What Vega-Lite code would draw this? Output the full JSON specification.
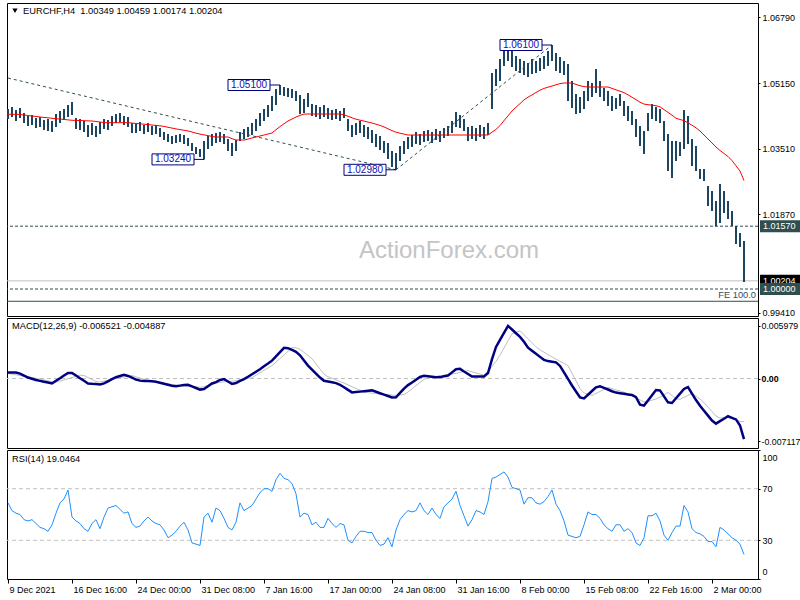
{
"$schema": "https://vega.github.io/schema/vega-lite/v6.json",
"background": "white",
"padding": {"left": 2, "top": 2, "right": 0, "bottom": 0},
"spacing": 2,
"bounds": "flush",
"resolve": {"scale": {"x": "independent", "y": "independent"}},
"config": {
  "view": {"stroke": "#000000", "strokeWidth": 1},
  "axis": {"labelFont": "Liberation Sans", "labelFontSize": 9, "labelColor": "#000000", "tickColor": "#000000", "domain": false, "grid": false}
},
"datasets": {
"d": [
{"i":0,"h":1.045,"l":1.0425,"m":1.04368,"d":0.00068,"s":0.00056,"r":59},
{"i":2,"h":1.0455,"l":1.043,"m":1.04368,"d":0.00068,"s":0.00049,"r":53},
{"i":4,"h":1.04475,"l":1.042,"m":1.04368,"d":0.00068,"s":0.00042,"r":51},
{"i":6,"h":1.04525,"l":1.04275,"m":1.04363,"d":0.00056,"s":0.00034,"r":50},
{"i":8,"h":1.044,"l":1.0415,"m":1.0435,"d":0.00034,"s":0.00026,"r":46},
{"i":10,"h":1.04325,"l":1.04075,"m":1.04338,"d":0.00011,"s":0.00019,"r":45},
{"i":12,"h":1.0435,"l":1.041,"m":1.04325,"d":-0.00002,"s":0.00011,"r":46},
{"i":14,"h":1.04275,"l":1.04025,"m":1.04313,"d":-0.00016,"s":0.00003,"r":43},
{"i":16,"h":1.043,"l":1.0405,"m":1.043,"d":-0.00027,"s":-0.00006,"r":40},
{"i":18,"h":1.04225,"l":1.03975,"m":1.0429,"d":-0.00037,"s":-0.00016,"r":39},
{"i":20,"h":1.0425,"l":1.0395,"m":1.0428,"d":-0.00046,"s":-0.00027,"r":37},
{"i":22,"h":1.042,"l":1.03925,"m":1.04268,"d":-0.00056,"s":-0.00037,"r":42},
{"i":24,"h":1.04375,"l":1.0405,"m":1.04258,"d":-0.00026,"s":-0.00042,"r":51},
{"i":26,"h":1.0445,"l":1.0415,"m":1.04248,"d":0.00003,"s":-0.00028,"r":59},
{"i":28,"h":1.045,"l":1.04225,"m":1.04238,"d":0.00034,"s":-0.00016,"r":62},
{"i":30,"h":1.046,"l":1.043,"m":1.04228,"d":0.00064,"s":-0.00002,"r":69},
{"i":32,"h":1.04675,"l":1.0435,"m":1.04218,"d":0.00064,"s":0.00011,"r":48},
{"i":34,"h":1.04275,"l":1.04,"m":1.04215,"d":0.00034,"s":0.00025,"r":45},
{"i":36,"h":1.0425,"l":1.03975,"m":1.0421,"d":0.00003,"s":0.00038,"r":43},
{"i":38,"h":1.042,"l":1.03925,"m":1.04208,"d":-0.00026,"s":0.00034,"r":39},
{"i":40,"h":1.041,"l":1.038,"m":1.04203,"d":-0.00056,"s":0.00011,"r":37},
{"i":42,"h":1.0415,"l":1.0385,"m":1.042,"d":-0.0006,"s":-0.00011,"r":43},
{"i":44,"h":1.04075,"l":1.038,"m":1.04188,"d":-0.00063,"s":-0.00034,"r":46},
{"i":46,"h":1.04175,"l":1.03875,"m":1.04175,"d":-0.00067,"s":-0.0004,"r":39},
{"i":48,"h":1.0425,"l":1.04,"m":1.0416,"d":-0.00056,"s":-0.00029,"r":48},
{"i":50,"h":1.04225,"l":1.03975,"m":1.04158,"d":-0.00032,"s":-0.00018,"r":55},
{"i":52,"h":1.04325,"l":1.04075,"m":1.04158,"d":-0.00007,"s":-0.00008,"r":56},
{"i":54,"h":1.04375,"l":1.0415,"m":1.04158,"d":0.00015,"s":0.00002,"r":57},
{"i":56,"h":1.044,"l":1.04175,"m":1.04158,"d":0.00028,"s":0.0001,"r":54},
{"i":58,"h":1.04325,"l":1.041,"m":1.04158,"d":0.00042,"s":0.00018,"r":51},
{"i":60,"h":1.043,"l":1.0405,"m":1.04158,"d":0.00029,"s":0.00026,"r":52},
{"i":62,"h":1.0415,"l":1.039,"m":1.04148,"d":0.00009,"s":0.00034,"r":43},
{"i":64,"h":1.04125,"l":1.039,"m":1.04138,"d":-0.00012,"s":0.00019,"r":40},
{"i":66,"h":1.04175,"l":1.0395,"m":1.0413,"d":-0.00024,"s":0.00006,"r":41},
{"i":68,"h":1.041,"l":1.03875,"m":1.0412,"d":-0.00027,"s":-0.00009,"r":45},
{"i":70,"h":1.0415,"l":1.03925,"m":1.0411,"d":-0.00029,"s":-0.00023,"r":48},
{"i":72,"h":1.04075,"l":1.0385,"m":1.041,"d":-0.00032,"s":-0.0003,"r":45},
{"i":74,"h":1.041,"l":1.03875,"m":1.0409,"d":-0.00037,"s":-0.00037,"r":43},
{"i":76,"h":1.04025,"l":1.038,"m":1.0408,"d":-0.00049,"s":-0.00045,"r":42},
{"i":78,"h":1.03925,"l":1.03725,"m":1.04065,"d":-0.0006,"s":-0.00053,"r":38},
{"i":80,"h":1.03875,"l":1.03675,"m":1.04043,"d":-0.00071,"s":-0.0006,"r":32},
{"i":82,"h":1.03825,"l":1.03625,"m":1.04023,"d":-0.00082,"s":-0.00068,"r":34},
{"i":84,"h":1.0385,"l":1.0365,"m":1.04003,"d":-0.00088,"s":-0.00076,"r":37},
{"i":86,"h":1.03875,"l":1.03675,"m":1.03985,"d":-0.00081,"s":-0.00081,"r":41},
{"i":88,"h":1.0385,"l":1.03625,"m":1.03968,"d":-0.00073,"s":-0.00085,"r":44},
{"i":90,"h":1.03775,"l":1.03575,"m":1.0395,"d":-0.00072,"s":-0.00088,"r":38},
{"i":92,"h":1.0365,"l":1.0345,"m":1.03925,"d":-0.0009,"s":-0.00093,"r":28},
{"i":94,"h":1.0355,"l":1.03375,"m":1.03895,"d":-0.00108,"s":-0.00096,"r":27},
{"i":96,"h":1.035,"l":1.033,"m":1.03873,"d":-0.00126,"s":-0.00099,"r":26},
{"i":98,"h":1.037,"l":1.0324,"m":1.03853,"d":-0.0012,"s":-0.00095,"r":48},
{"i":100,"h":1.03825,"l":1.035,"m":1.03835,"d":-0.00088,"s":-0.0008,"r":51},
{"i":102,"h":1.03875,"l":1.03575,"m":1.03815,"d":-0.00056,"s":-0.00067,"r":44},
{"i":104,"h":1.039,"l":1.0365,"m":1.038,"d":-0.00041,"s":-0.00052,"r":55},
{"i":106,"h":1.03925,"l":1.03675,"m":1.038,"d":-0.00016,"s":-0.00043,"r":53},
{"i":108,"h":1.03875,"l":1.03625,"m":1.038,"d":-0.00007,"s":-0.00038,"r":47},
{"i":110,"h":1.0375,"l":1.0345,"m":1.038,"d":-0.00034,"s":-0.00034,"r":40},
{"i":112,"h":1.0365,"l":1.03325,"m":1.03758,"d":-0.00061,"s":-0.00029,"r":38},
{"i":114,"h":1.03725,"l":1.0345,"m":1.03725,"d":-0.00051,"s":-0.00025,"r":44},
{"i":116,"h":1.03925,"l":1.037,"m":1.03725,"d":-0.00028,"s":-0.00016,"r":59},
{"i":118,"h":1.04,"l":1.0375,"m":1.03725,"d":-0.00006,"s":-0.00008,"r":53},
{"i":120,"h":1.0405,"l":1.038,"m":1.03748,"d":0.0002,"s":0.00001,"r":55},
{"i":122,"h":1.0415,"l":1.0385,"m":1.03775,"d":0.00049,"s":0.00011,"r":57},
{"i":124,"h":1.0425,"l":1.0395,"m":1.038,"d":0.00077,"s":0.00038,"r":62},
{"i":126,"h":1.044,"l":1.04075,"m":1.03825,"d":0.00106,"s":0.00065,"r":67},
{"i":128,"h":1.045,"l":1.042,"m":1.0385,"d":0.00139,"s":0.00093,"r":70},
{"i":130,"h":1.046,"l":1.043,"m":1.03875,"d":0.0017,"s":0.0012,"r":70},
{"i":132,"h":1.04825,"l":1.0445,"m":1.039,"d":0.00203,"s":0.00147,"r":68},
{"i":134,"h":1.05,"l":1.046,"m":1.03983,"d":0.00252,"s":0.00187,"r":77},
{"i":136,"h":1.051,"l":1.0485,"m":1.0406,"d":0.003,"s":0.00228,"r":82},
{"i":138,"h":1.0505,"l":1.04825,"m":1.0413,"d":0.00349,"s":0.00269,"r":78},
{"i":140,"h":1.05025,"l":1.048,"m":1.042,"d":0.00345,"s":0.00309,"r":77},
{"i":142,"h":1.05,"l":1.04775,"m":1.0425,"d":0.00325,"s":0.0035,"r":74},
{"i":144,"h":1.0495,"l":1.047,"m":1.043,"d":0.00304,"s":0.0035,"r":66},
{"i":146,"h":1.0485,"l":1.04375,"m":1.0434,"d":0.00264,"s":0.00332,"r":48},
{"i":148,"h":1.0475,"l":1.044,"m":1.04373,"d":0.00205,"s":0.00297,"r":51},
{"i":150,"h":1.049,"l":1.0455,"m":1.04375,"d":0.00147,"s":0.00261,"r":50},
{"i":152,"h":1.04625,"l":1.04325,"m":1.04375,"d":0.00102,"s":0.00226,"r":42},
{"i":154,"h":1.046,"l":1.043,"m":1.04375,"d":0.00056,"s":0.00167,"r":44},
{"i":156,"h":1.0455,"l":1.0425,"m":1.04375,"d":0.00011,"s":0.00107,"r":40},
{"i":158,"h":1.046,"l":1.043,"m":1.04375,"d":-0.00025,"s":0.00049,"r":40},
{"i":160,"h":1.04525,"l":1.0425,"m":1.04375,"d":-0.00034,"s":0.0002,"r":47},
{"i":162,"h":1.04475,"l":1.04225,"m":1.04375,"d":-0.00043,"s":0.00002,"r":43},
{"i":164,"h":1.045,"l":1.0425,"m":1.04375,"d":-0.00052,"s":-0.00016,"r":40},
{"i":166,"h":1.0445,"l":1.042,"m":1.04375,"d":-0.00071,"s":-0.00034,"r":43},
{"i":168,"h":1.04525,"l":1.04275,"m":1.04355,"d":-0.001,"s":-0.00052,"r":42},
{"i":170,"h":1.0425,"l":1.0395,"m":1.04318,"d":-0.00129,"s":-0.00072,"r":30},
{"i":172,"h":1.041,"l":1.038,"m":1.0428,"d":-0.00158,"s":-0.00093,"r":28},
{"i":174,"h":1.0415,"l":1.0385,"m":1.04245,"d":-0.00154,"s":-0.00113,"r":33},
{"i":176,"h":1.042,"l":1.039,"m":1.0422,"d":-0.00149,"s":-0.00133,"r":37},
{"i":178,"h":1.041,"l":1.038,"m":1.04198,"d":-0.00145,"s":-0.00154,"r":37},
{"i":180,"h":1.0405,"l":1.0375,"m":1.04173,"d":-0.0014,"s":-0.00161,"r":36},
{"i":182,"h":1.03975,"l":1.0365,"m":1.0415,"d":-0.00135,"s":-0.00166,"r":36},
{"i":184,"h":1.03875,"l":1.0355,"m":1.0412,"d":-0.00151,"s":-0.0017,"r":30},
{"i":186,"h":1.03825,"l":1.03475,"m":1.0409,"d":-0.00167,"s":-0.00175,"r":26},
{"i":188,"h":1.037,"l":1.034,"m":1.04053,"d":-0.00183,"s":-0.0018,"r":27},
{"i":190,"h":1.0365,"l":1.0325,"m":1.04005,"d":-0.00199,"s":-0.00184,"r":32},
{"i":192,"h":1.0345,"l":1.0305,"m":1.0396,"d":-0.00215,"s":-0.00189,"r":25},
{"i":194,"h":1.034,"l":1.0298,"m":1.0392,"d":-0.00213,"s":-0.00191,"r":38},
{"i":196,"h":1.03575,"l":1.032,"m":1.03895,"d":-0.00164,"s":-0.00186,"r":46},
{"i":198,"h":1.037,"l":1.03375,"m":1.03873,"d":-0.00114,"s":-0.00182,"r":50},
{"i":200,"h":1.038,"l":1.035,"m":1.0385,"d":-0.00075,"s":-0.00154,"r":53},
{"i":202,"h":1.0385,"l":1.0355,"m":1.0385,"d":-0.00045,"s":-0.00117,"r":52},
{"i":204,"h":1.03925,"l":1.03625,"m":1.0385,"d":-0.00014,"s":-0.00081,"r":53},
{"i":206,"h":1.03875,"l":1.036,"m":1.0385,"d":0.00018,"s":-0.00045,"r":59},
{"i":208,"h":1.0395,"l":1.03675,"m":1.0385,"d":0.0003,"s":-0.00009,"r":53},
{"i":210,"h":1.03975,"l":1.037,"m":1.0385,"d":0.00025,"s":0.00006,"r":50},
{"i":212,"h":1.03925,"l":1.0365,"m":1.0385,"d":0.00019,"s":0.00014,"r":55},
{"i":214,"h":1.04,"l":1.03725,"m":1.0385,"d":0.00014,"s":0.0002,"r":50},
{"i":216,"h":1.0395,"l":1.03675,"m":1.0385,"d":0.00016,"s":0.00028,"r":47},
{"i":218,"h":1.04025,"l":1.03775,"m":1.0385,"d":0.00025,"s":0.00036,"r":56},
{"i":220,"h":1.04075,"l":1.03825,"m":1.0385,"d":0.00034,"s":0.00043,"r":59},
{"i":222,"h":1.042,"l":1.039,"m":1.0385,"d":0.0007,"s":0.00051,"r":62},
{"i":224,"h":1.04425,"l":1.0405,"m":1.0385,"d":0.00106,"s":0.00059,"r":68},
{"i":226,"h":1.0435,"l":1.04025,"m":1.0385,"d":0.0011,"s":0.0007,"r":57},
{"i":228,"h":1.0425,"l":1.0395,"m":1.0385,"d":0.0008,"s":0.0008,"r":49},
{"i":230,"h":1.0405,"l":1.037,"m":1.0385,"d":0.00052,"s":0.0009,"r":41},
{"i":232,"h":1.04075,"l":1.0375,"m":1.0385,"d":0.00023,"s":0.00077,"r":46},
{"i":234,"h":1.04025,"l":1.037,"m":1.0385,"d":0.00023,"s":0.00063,"r":53},
{"i":236,"h":1.041,"l":1.038,"m":1.0385,"d":0.00023,"s":0.00051,"r":52},
{"i":238,"h":1.0405,"l":1.0375,"m":1.0385,"d":0.00023,"s":0.00037,"r":50},
{"i":240,"h":1.0415,"l":1.0385,"m":1.0385,"d":0.00062,"s":0.00078,"r":60},
{"i":242,"h":1.054,"l":1.045,"m":1.0392,"d":0.0022,"s":0.00138,"r":78},
{"i":244,"h":1.055,"l":1.05075,"m":1.0399,"d":0.00359,"s":0.00196,"r":79},
{"i":246,"h":1.0575,"l":1.052,"m":1.04085,"d":0.00438,"s":0.00266,"r":81},
{"i":248,"h":1.06,"l":1.05575,"m":1.04208,"d":0.00518,"s":0.00347,"r":83},
{"i":250,"h":1.0605,"l":1.057,"m":1.04328,"d":0.00598,"s":0.00428,"r":79},
{"i":252,"h":1.06,"l":1.0555,"m":1.0445,"d":0.00557,"s":0.00508,"r":71},
{"i":254,"h":1.05825,"l":1.0545,"m":1.04543,"d":0.00515,"s":0.00525,"r":70},
{"i":256,"h":1.0575,"l":1.054,"m":1.04635,"d":0.00473,"s":0.00542,"r":69},
{"i":258,"h":1.057,"l":1.0535,"m":1.04728,"d":0.00418,"s":0.00497,"r":58},
{"i":260,"h":1.0565,"l":1.053,"m":1.04795,"d":0.0035,"s":0.00452,"r":63},
{"i":262,"h":1.0575,"l":1.05375,"m":1.04853,"d":0.00315,"s":0.00406,"r":63},
{"i":264,"h":1.057,"l":1.054,"m":1.04913,"d":0.00281,"s":0.00361,"r":59},
{"i":266,"h":1.05775,"l":1.0545,"m":1.0497,"d":0.00246,"s":0.00325,"r":58},
{"i":268,"h":1.05825,"l":1.055,"m":1.05015,"d":0.00212,"s":0.00299,"r":60},
{"i":270,"h":1.0595,"l":1.05575,"m":1.05045,"d":0.00198,"s":0.00272,"r":64},
{"i":272,"h":1.061,"l":1.057,"m":1.05075,"d":0.00191,"s":0.00246,"r":69},
{"i":274,"h":1.059,"l":1.0545,"m":1.05105,"d":0.00184,"s":0.0022,"r":58},
{"i":276,"h":1.058,"l":1.054,"m":1.05135,"d":0.00143,"s":0.00195,"r":53},
{"i":278,"h":1.057,"l":1.0535,"m":1.0515,"d":0.00069,"s":0.00172,"r":45},
{"i":280,"h":1.05625,"l":1.047,"m":1.0515,"d":-0.00005,"s":0.00147,"r":34},
{"i":282,"h":1.052,"l":1.04525,"m":1.0515,"d":-0.00079,"s":0.0006,"r":33},
{"i":284,"h":1.04875,"l":1.04375,"m":1.05115,"d":-0.00147,"s":-0.00027,"r":32},
{"i":286,"h":1.048,"l":1.044,"m":1.05083,"d":-0.00215,"s":-0.00114,"r":33},
{"i":288,"h":1.0495,"l":1.045,"m":1.0506,"d":-0.00227,"s":-0.00165,"r":42},
{"i":290,"h":1.052,"l":1.047,"m":1.0505,"d":-0.00185,"s":-0.00178,"r":52},
{"i":292,"h":1.0515,"l":1.048,"m":1.0505,"d":-0.00142,"s":-0.00192,"r":50},
{"i":294,"h":1.055,"l":1.049,"m":1.0505,"d":-0.001,"s":-0.00169,"r":50},
{"i":296,"h":1.052,"l":1.048,"m":1.0505,"d":-0.00088,"s":-0.00147,"r":47},
{"i":298,"h":1.05025,"l":1.047,"m":1.0505,"d":-0.00107,"s":-0.00124,"r":42},
{"i":300,"h":1.0495,"l":1.04575,"m":1.0505,"d":-0.00125,"s":-0.00102,"r":39},
{"i":302,"h":1.04825,"l":1.0445,"m":1.05015,"d":-0.00145,"s":-0.00115,"r":37},
{"i":304,"h":1.04775,"l":1.045,"m":1.0498,"d":-0.0016,"s":-0.00129,"r":42},
{"i":306,"h":1.04875,"l":1.04575,"m":1.04945,"d":-0.00167,"s":-0.00141,"r":42},
{"i":308,"h":1.047,"l":1.04325,"m":1.0491,"d":-0.00174,"s":-0.00155,"r":37},
{"i":310,"h":1.04575,"l":1.042,"m":1.04855,"d":-0.00181,"s":-0.00175,"r":39},
{"i":312,"h":1.0445,"l":1.041,"m":1.04793,"d":-0.00187,"s":-0.00198,"r":36},
{"i":314,"h":1.0425,"l":1.038,"m":1.04733,"d":-0.00213,"s":-0.0022,"r":28},
{"i":316,"h":1.04075,"l":1.03575,"m":1.0467,"d":-0.00297,"s":-0.00243,"r":26},
{"i":318,"h":1.0395,"l":1.03375,"m":1.04623,"d":-0.00308,"s":-0.00265,"r":32},
{"i":320,"h":1.044,"l":1.0395,"m":1.04608,"d":-0.0025,"s":-0.00261,"r":49},
{"i":322,"h":1.04625,"l":1.0425,"m":1.04595,"d":-0.00191,"s":-0.00246,"r":49},
{"i":324,"h":1.0455,"l":1.042,"m":1.04583,"d":-0.00131,"s":-0.00233,"r":51},
{"i":326,"h":1.045,"l":1.0415,"m":1.04555,"d":-0.00135,"s":-0.00212,"r":45},
{"i":328,"h":1.042,"l":1.037,"m":1.04485,"d":-0.00203,"s":-0.00185,"r":34},
{"i":330,"h":1.03875,"l":1.0295,"m":1.04415,"d":-0.00271,"s":-0.00158,"r":30},
{"i":332,"h":1.037,"l":1.02775,"m":1.04345,"d":-0.00278,"s":-0.00194,"r":36},
{"i":334,"h":1.037,"l":1.032,"m":1.04268,"d":-0.00225,"s":-0.0023,"r":41},
{"i":336,"h":1.03675,"l":1.03325,"m":1.04238,"d":-0.00172,"s":-0.00237,"r":41},
{"i":338,"h":1.04475,"l":1.035,"m":1.04208,"d":-0.00119,"s":-0.00215,"r":57},
{"i":340,"h":1.04325,"l":1.03625,"m":1.04155,"d":-0.00097,"s":-0.00192,"r":52},
{"i":342,"h":1.0375,"l":1.03075,"m":1.04093,"d":-0.00172,"s":-0.00169,"r":39},
{"i":344,"h":1.03575,"l":1.0295,"m":1.0403,"d":-0.00245,"s":-0.00201,"r":36},
{"i":346,"h":1.03,"l":1.0275,"m":1.0395,"d":-0.0031,"s":-0.00233,"r":35},
{"i":348,"h":1.03,"l":1.027,"m":1.0385,"d":-0.00366,"s":-0.00274,"r":33},
{"i":350,"h":1.02575,"l":1.02075,"m":1.0375,"d":-0.00422,"s":-0.00325,"r":29},
{"i":352,"h":1.0245,"l":1.0195,"m":1.0365,"d":-0.00478,"s":-0.00376,"r":29},
{"i":354,"h":1.022,"l":1.0157,"m":1.0355,"d":-0.00513,"s":-0.00427,"r":25},
{"i":356,"h":1.02625,"l":1.0165,"m":1.03463,"d":-0.00484,"s":-0.00449,"r":40},
{"i":358,"h":1.0245,"l":1.019,"m":1.03388,"d":-0.00457,"s":-0.00445,"r":38},
{"i":360,"h":1.022,"l":1.0175,"m":1.03313,"d":-0.00429,"s":-0.0044,"r":35},
{"i":362,"h":1.0195,"l":1.01575,"m":1.0321,"d":-0.00447,"s":-0.00456,"r":32},
{"i":364,"h":1.01575,"l":1.01125,"m":1.0308,"d":-0.00465,"s":-0.00472,"r":30},
{"i":366,"h":1.014,"l":1.0105,"m":1.0295,"d":-0.00534,"s":-0.00488,"r":27},
{"i":368,"h":1.012,"l":1.00174,"m":1.0271,"d":-0.0069,"s":-0.00489,"r":19}
],
"lv": [
{"p":1.0157,"k":"dash"},
{"p":1.0,"k":"dash"},
{"p":1.00204,"k":"bid"},
{"p":0.99693,"k":"fe"}
],
"tl": [
{"g":1,"i":0,"p":1.05275},
{"g":1,"i":194,"p":1.0298},
{"g":2,"i":194,"p":1.0298},
{"g":2,"i":272,"p":1.061}
],
"lb": [
{"i":136,"p":1.051,"t":"1.05100"},
{"i":98,"p":1.0324,"t":"1.03240"},
{"i":194,"p":1.0298,"t":"1.02980"},
{"i":272,"p":1.061,"t":"1.06100"}
],
"tg": [
{"p":1.0157,"t":"1.01570","k":"lvl"},
{"p":1.00204,"t":"1.00204","k":"bid"},
{"p":1.0,"t":"1.00000","k":"lvl"}
],
"rl": [{"v":30},{"v":70}]
},
"vconcat": [
{
"width": 751, "height": 313,
"layer": [
{"data":{"name":"lv"},"transform":[{"filter":"datum.k=='dash'"}],
 "mark":{"type":"rule","color":"#2f4f4f","strokeDash":[3,2],"strokeWidth":1},
 "encoding":{"y":{"field":"p","type":"quantitative","title":null,"scale":{"domain":[0.99325,1.0715],"nice":false,"zero":false},
   "axis":{"orient":"right","values":[1.0679,1.0597,1.0515,1.0433,1.0351,1.0269,1.0187,1.0105,0.9941],"format":".5f","tickSize":2,"labelPadding":2}}}},
{"data":{"name":"lv"},"transform":[{"filter":"datum.k=='bid'"}],
 "mark":{"type":"rule","color":"#c0c0c0","strokeWidth":1},
 "encoding":{"y":{"field":"p","type":"quantitative","title":null}}},
{"data":{"name":"lv"},"transform":[{"filter":"datum.k=='fe'"}],
 "mark":{"type":"rule","color":"#2f4f4f","strokeWidth":1},
 "encoding":{"y":{"field":"p","type":"quantitative","title":null}}},
{"data":{"name":"lv"},"transform":[{"filter":"datum.k=='fe'"}],
 "mark":{"type":"text","align":"right","baseline":"bottom","dx":-2,"dy":-1,"font":"Liberation Sans","fontSize":9.3,"color":"#3a4a5a"},
 "encoding":{"x":{"datum":375,"type":"quantitative","axis":null},"y":{"field":"p","type":"quantitative","title":null},"text":{"value":"FE 100.0"}}},
{"data":{"values":[{"w":"ActionForex.com"}]},
 "mark":{"type":"text","align":"center","baseline":"middle","font":"Liberation Sans","fontSize":24,"color":"#c4c4c4"},
 "encoding":{"x":{"datum":220.5,"type":"quantitative","axis":null},"y":{"datum":1.0095,"type":"quantitative"},"text":{"field":"w"}}},
{"data":{"name":"d"},
 "mark":{"type":"rule","color":"#1b4560","strokeWidth":2},
 "encoding":{"x":{"field":"i","type":"quantitative","axis":null,"scale":{"domain":[-0.5,375],"nice":false,"zero":false}},
   "y":{"field":"l","type":"quantitative","title":null},"y2":{"field":"h"}}},
{"data":{"name":"d"},
 "mark":{"type":"line","color":"#ff0000","strokeWidth":1},
 "encoding":{"x":{"field":"i","type":"quantitative","axis":null},"y":{"field":"m","type":"quantitative","title":null}}},
{"data":{"name":"tl"},
 "mark":{"type":"line","color":"#2f4f4f","strokeWidth":1,"strokeDash":[3,3]},
 "encoding":{"x":{"field":"i","type":"quantitative","axis":null},"y":{"field":"p","type":"quantitative","title":null},"detail":{"field":"g"}}},
{"data":{"name":"lb"},
 "mark":{"type":"rule","color":"#000080","strokeWidth":1,"xOffset":-10,"x2Offset":0},
 "encoding":{"x":{"field":"i","type":"quantitative","axis":null},"x2":{"field":"i"},"y":{"field":"p","type":"quantitative","title":null}}},
{"data":{"name":"lb"},
 "mark":{"type":"rect","fill":"#ffffff","stroke":"#000080","strokeWidth":1,"xOffset":-52,"x2Offset":-10,"yOffset":-5.5,"y2Offset":5.5},
 "encoding":{"x":{"field":"i","type":"quantitative","axis":null},"x2":{"field":"i"},"y":{"field":"p","type":"quantitative","title":null},"y2":{"field":"p"}}},
{"data":{"name":"lb"},
 "mark":{"type":"text","align":"center","baseline":"middle","dx":-31,"font":"Liberation Sans","fontSize":10,"color":"#1010b0"},
 "encoding":{"x":{"field":"i","type":"quantitative","axis":null},"y":{"field":"p","type":"quantitative","title":null},"text":{"field":"t"}}},
{"data":{"values":[{"w":"EURCHF,H4\u00a0 1.00349 1.00459 1.00174 1.00204"}]},
 "mark":{"type":"point","shape":"triangle-down","filled":true,"size":28,"color":"#000000","opacity":1},
 "encoding":{"x":{"datum":3.5,"type":"quantitative","axis":null},"y":{"datum":1.06955,"type":"quantitative"}}},
{"data":{"values":[{"w":"EURCHF,H4\u00a0 1.00349 1.00459 1.00174 1.00204"}]},
 "mark":{"type":"text","align":"left","baseline":"middle","font":"Liberation Sans","fontSize":9.3,"color":"#000000"},
 "encoding":{"x":{"datum":7.5,"type":"quantitative","axis":null},"y":{"datum":1.0695,"type":"quantitative"},"text":{"field":"w"}}},
{"data":{"name":"tg"},"transform":[{"filter":"datum.t!='1.00000'"}],
 "mark":{"type":"rect","xOffset":2,"x2Offset":42,"yOffset":-6,"y2Offset":6},
 "encoding":{"x":{"datum":375,"type":"quantitative","axis":null},"x2":{"datum":375},"y":{"field":"p","type":"quantitative","title":null},"y2":{"field":"p"},
   "color":{"field":"k","type":"nominal","legend":null,"scale":{"domain":["lvl","bid"],"range":["#2f4f4f","#000000"]}}}},
{"data":{"name":"tg"},"transform":[{"filter":"datum.t!='1.00000'"}],
 "mark":{"type":"text","align":"left","baseline":"middle","dx":5,"font":"Liberation Sans","fontSize":9,"color":"#ffffff"},
 "encoding":{"x":{"datum":375,"type":"quantitative","axis":null},"y":{"field":"p","type":"quantitative","title":null},"text":{"field":"t"}}},
{"data":{"name":"tg"},"transform":[{"filter":"datum.t=='1.00000'"}],
 "mark":{"type":"rect","xOffset":2,"x2Offset":42,"yOffset":-6,"y2Offset":6,"color":"#2f4f4f"},
 "encoding":{"x":{"datum":375,"type":"quantitative","axis":null},"x2":{"datum":375},"y":{"field":"p","type":"quantitative","title":null},"y2":{"field":"p"}}},
{"data":{"name":"tg"},"transform":[{"filter":"datum.t=='1.00000'"}],
 "mark":{"type":"text","align":"left","baseline":"middle","dx":5,"font":"Liberation Sans","fontSize":9,"color":"#ffffff"},
 "encoding":{"x":{"datum":375,"type":"quantitative","axis":null},"y":{"field":"p","type":"quantitative","title":null},"text":{"field":"t"}}}
]
},
{
"width": 751, "height": 130,
"layer": [
{"data":{"values":[{"z":0}]},
 "mark":{"type":"rule","color":"#c0c0c0","strokeDash":[4,3],"strokeWidth":1},
 "encoding":{"y":{"field":"z","type":"quantitative","title":null,"scale":{"domain":[-0.0079,0.00688],"nice":false,"zero":false},
   "axis":{"orient":"right","values":[0.005979,0,-0.007117],"labelExpr":"datum.value==0?'0.00':(datum.value<0?'-':'')+format(abs(datum.value),'.6f')","tickSize":2,"labelPadding":1,"labelFontSize":8.8,
   "labelFontWeight":{"condition":{"test":"datum.value==0","value":"bold"},"value":"normal"}}}}},
{"data":{"name":"d"},
 "mark":{"type":"line","color":"#c0c0c0","strokeWidth":1},
 "encoding":{"x":{"field":"i","type":"quantitative","axis":null,"scale":{"domain":[-0.5,375],"nice":false,"zero":false}},"y":{"field":"s","type":"quantitative","title":null}}},
{"data":{"name":"d"},
 "mark":{"type":"line","color":"#000080","strokeWidth":2.5},
 "encoding":{"x":{"field":"i","type":"quantitative","axis":null},"y":{"field":"d","type":"quantitative","title":null}}},
{"data":{"values":[{"w":"MACD(12,26,9) -0.006521 -0.004887"}]},
 "mark":{"type":"text","align":"left","baseline":"middle","font":"Liberation Sans","fontSize":9.3,"color":"#000000"},
 "encoding":{"x":{"datum":2,"type":"quantitative","axis":null},"y":{"datum":0.006,"type":"quantitative"},"text":{"field":"w"}}}
]
},
{
"width": 751, "height": 129,
"layer": [
{"data":{"name":"rl"},
 "mark":{"type":"rule","color":"#c0c0c0","strokeDash":[4,3],"strokeWidth":1},
 "encoding":{"y":{"field":"v","type":"quantitative","title":null,"scale":{"domain":[0,100],"nice":false,"zero":false},
   "axis":{"orient":"right","values":[0,30,70,100],"tickSize":2,"labelPadding":2,"labelFlush":true,"labelFlushOffset":-3}}}},
{"data":{"name":"d"},
 "mark":{"type":"line","color":"#1e90ff","strokeWidth":1},
 "encoding":{"x":{"field":"i","type":"quantitative","title":null,"scale":{"domain":[-0.5,375],"nice":false,"zero":false},
   "axis":{"orient":"bottom","values":[0,32,64,96,128,160,192,224,256,288,320,352],
     "labelExpr":"['9 Dec 2021','16 Dec 16:00','24 Dec 00:00','31 Dec 08:00','7 Jan 16:00','17 Jan 00:00','24 Jan 08:00','31 Jan 16:00','8 Feb 00:00','15 Feb 08:00','22 Feb 16:00','2 Mar 00:00'][round(datum.value/32)]",
     "labelAlign":"left","labelOffset":1,"tickSize":4,"labelPadding":2,"labelFlush":false,"labelOverlap":false,"labelBound":false}},
   "y":{"field":"r","type":"quantitative","title":null}}},
{"data":{"values":[{"w":"RSI(14) 19.0464"}]},
 "mark":{"type":"text","align":"left","baseline":"middle","font":"Liberation Sans","fontSize":9.3,"color":"#000000"},
 "encoding":{"x":{"datum":2,"type":"quantitative"},"y":{"datum":93,"type":"quantitative"},"text":{"field":"w"}}}
]
}
]
}
